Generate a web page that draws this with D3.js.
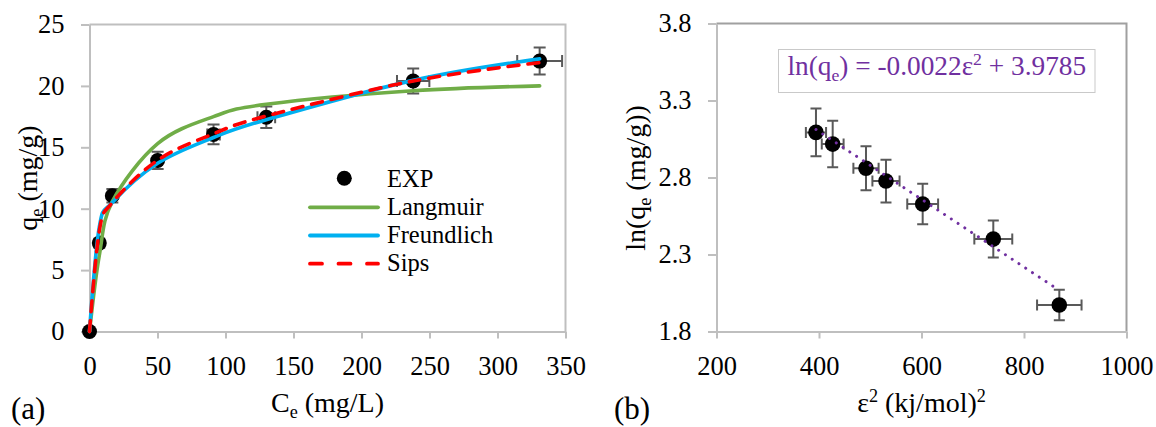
<!DOCTYPE html>
<html>
<head>
<meta charset="utf-8">
<script src="https://cdn.jsdelivr.net/npm/d3@7"></script>
<style>
  body { margin: 0; background: #fff; }
  svg { display: block; font-family: "Liberation Serif", "Times New Roman", serif; }
</style>
</head>
<body>
<svg id="chart" width="1156" height="427"></svg>
<script>
// ---------- Panel (a): adsorption isotherm ----------
const ceValues   = [0, 7.2, 16.8, 50.1, 91.2, 130, 238, 331];        // Ce (mg/L)
const qeValues   = [0, 7.2, 11.05, 13.93, 16.05, 17.45, 20.4, 22.02]; // qe (mg/g)
const qeErr      = [0, 0.36, 0.55, 0.70, 0.80, 0.87, 1.02, 1.10];
const ceErr      = [0, 0.36, 0.84, 2.5, 4.6, 6.5, 11.9, 16.5];
const langmuirQe    = [0, 6.2, 10.6, 15.3, 17.5, 18.5, 19.6, 20.0];
const freundlichQe  = [0, 8.5, 10.5, 13.7, 15.8, 17.25, 20.45, 22.2];
const sipsQe        = [0, 8.2, 10.5, 13.95, 16.1, 17.55, 20.4, 21.9];
const ceTicks = [0, 50, 100, 150, 200, 250, 300, 350];
const qeTicks = [0, 5, 10, 15, 20, 25];

// ---------- Panel (b): D-R plot ----------
const eps2Values = [394.1, 426.7, 491.7, 530.7, 602.3, 740.1, 868.9];
const lnQeValues = [3.093, 3.017, 2.860, 2.777, 2.628, 2.400, 1.972];
const lnQeErr    = [0.155, 0.151, 0.143, 0.139, 0.131, 0.120, 0.099];
const eps2Err    = [19.7, 21.3, 24.6, 26.5, 30.1, 37.0, 43.4];
const trendSlope = -0.0022;
const trendIntercept = 3.9785;
const eps2Ticks = [200, 400, 600, 800, 1000];
const lnQeTicks = [1.8, 2.3, 2.8, 3.3, 3.8];

const FONT = "'Liberation Serif', 'Times New Roman', serif";
const AXIS_COLOR = "#bfbfbf";
const ERR_COLOR = "#595959";
const TICK_FONT = 26.5;
const TITLE_FONT = 28;

const svg = d3.select("#chart");

function styleAxis(g) {
  g.attr("font-family", FONT).attr("font-size", TICK_FONT);
  g.select(".domain").attr("stroke", AXIS_COLOR).attr("stroke-width", 2);
  g.selectAll(".tick line").attr("stroke", AXIS_COLOR).attr("stroke-width", 2);
  g.selectAll(".tick text").attr("fill", "#000");
}

function drawAxes(g, x, y, xt, yt, fmtY, borderColor) {
  const [x0, x1] = x.range();
  const [y0, y1] = y.range();
  // top & right frame
  g.append("path")
    .attr("d", `M${x0},${y1}H${x1}V${y0}`)
    .attr("fill", "none").attr("stroke", borderColor).attr("stroke-width", 2);
  g.append("g")
    .attr("transform", `translate(0,${y0})`)
    .call(d3.axisBottom(x).tickValues(xt).tickFormat(d3.format("d"))
      .tickSize(7).tickSizeOuter(0).tickPadding(17.5))
    .call(styleAxis);
  g.append("g")
    .attr("transform", `translate(${x0},0)`)
    .call(d3.axisLeft(y).tickValues(yt).tickFormat(fmtY)
      .tickSize(8.5).tickSizeOuter(0).tickPadding(16.5))
    .call(styleAxis);
}

function drawErrorBars(g, x, y, xs, ys, xe, ye, cap) {
  const eb = g.append("g").attr("stroke", ERR_COLOR).attr("stroke-width", 2).attr("fill", "none");
  xs.forEach((xv, i) => {
    const yv = ys[i];
    if (ye[i] > 0) {
      const ya = y(yv - ye[i]), yb = y(yv + ye[i]), xp = x(xv);
      eb.append("path").attr("d",
        `M${xp},${ya}V${yb}M${xp - cap},${ya}H${xp + cap}M${xp - cap},${yb}H${xp + cap}`);
    }
    if (xe[i] > 0) {
      const xa = x(xv - xe[i]), xb = x(xv + xe[i]), yp = y(yv);
      eb.append("path").attr("d",
        `M${xa},${yp}H${xb}M${xa},${yp - cap}V${yp + cap}M${xb},${yp - cap}V${yp + cap}`);
    }
  });
}

// ================= Panel (a) =================
const xA = d3.scaleLinear().domain([0, 350]).range([89.5, 565.5]);
const yA = d3.scaleLinear().domain([0, 25]).range([331.5, 24.5]);
const gA = svg.append("g");
drawAxes(gA, xA, yA, ceTicks, qeTicks, d3.format("d"), AXIS_COLOR);

drawErrorBars(gA, xA, yA, ceValues, qeValues, ceErr, qeErr, 6);

gA.append("g").selectAll("circle")
  .data(ceValues)
  .join("circle")
  .attr("cx", d => xA(d))
  .attr("cy", (d, i) => yA(qeValues[i]))
  .attr("r", 7.5)
  .attr("fill", "#000");

const modelLine = d3.line()
  .x((d, i) => xA(ceValues[i]))
  .y(d => yA(d))
  .curve(d3.curveCardinal.tension(0));

const models = [
  { name: "Langmuir",   values: langmuirQe,   color: "#70AD47", dash: null },
  { name: "Freundlich", values: freundlichQe, color: "#00B0F0", dash: null },
  { name: "Sips",       values: sipsQe,       color: "#FF0000", dash: "11,9" }
];

models.forEach(m => {
  gA.append("path")
    .attr("d", modelLine(m.values))
    .attr("fill", "none")
    .attr("stroke", m.color)
    .attr("stroke-width", 3.6)
    .attr("stroke-linecap", "round")
    .attr("stroke-linejoin", "round")
    .attr("stroke-dasharray", m.dash);
});

// legend
const legend = gA.append("g").attr("font-family", FONT).attr("font-size", 24.5);
legend.append("circle").attr("cx", 344.3).attr("cy", 178.3).attr("r", 7.5).attr("fill", "#000");
legend.append("text").attr("x", 387).attr("y", 186.7).text("EXP");
models.forEach((m, i) => {
  const ly = 207.3 + i * 28.2;
  legend.append("line")
    .attr("x1", 310).attr("x2", 378).attr("y1", ly).attr("y2", ly)
    .attr("stroke", m.color).attr("stroke-width", 3.8)
    .attr("stroke-linecap", "round")
    .attr("stroke-dasharray", m.dash ? "12,16.5" : null);
  legend.append("text").attr("x", 387).attr("y", ly + 7.3).text(m.name);
});

// axis titles
const tA = gA.append("g").attr("font-family", FONT).attr("font-size", TITLE_FONT).attr("fill", "#000");
const xTitleA = tA.append("text").attr("x", 327.5).attr("y", 411.5).attr("text-anchor", "middle");
xTitleA.append("tspan").text("C");
xTitleA.append("tspan").attr("font-size", "0.65em").attr("dy", 6).text("e");
xTitleA.append("tspan").attr("dy", -6).text(" (mg/L)");

const yTitleA = tA.append("text")
  .attr("transform", "translate(37,178) rotate(-90)")
  .attr("text-anchor", "middle");
yTitleA.append("tspan").text("q");
yTitleA.append("tspan").attr("font-size", "0.65em").attr("dy", 6).text("e");
yTitleA.append("tspan").attr("dy", -6).text(" (mg/g)");

tA.append("text").attr("x", 11).attr("y", 419).attr("font-size", 31).text("(a)");

// ================= Panel (b) =================
const xB = d3.scaleLinear().domain([200, 1000]).range([716.5, 1126.5]);
const yB = d3.scaleLinear().domain([1.8, 3.8]).range([331.5, 23.5]);
const gB = svg.append("g");
drawAxes(gB, xB, yB, eps2Ticks, lnQeTicks, d3.format(".1f"), "#a0a0a0");

drawErrorBars(gB, xB, yB, eps2Values, lnQeValues, eps2Err, lnQeErr, 5.5);

gB.append("g").selectAll("circle")
  .data(eps2Values)
  .join("circle")
  .attr("cx", d => xB(d))
  .attr("cy", (d, i) => yB(lnQeValues[i]))
  .attr("r", 7.8)
  .attr("fill", "#000");

// linear trend line from the fitted equation
const trendX = d3.extent(eps2Values);
gB.append("path")
  .attr("d", d3.line().x(d => xB(d)).y(d => yB(trendSlope * d + trendIntercept))(trendX))
  .attr("fill", "none")
  .attr("stroke", "#7030A0")
  .attr("stroke-width", 3)
  .attr("stroke-linecap", "round")
  .attr("stroke-dasharray", "0.01,8.1");

// equation box
gB.append("rect")
  .attr("x", 778.5).attr("y", 49.5).attr("width", 316.5).attr("height", 43)
  .attr("fill", "#fff").attr("stroke", "#c9c9c9").attr("stroke-width", 1);
const eq = gB.append("text")
  .attr("x", 936.8).attr("y", 74.5)
  .attr("text-anchor", "middle")
  .attr("font-family", FONT).attr("font-size", 27.3)
  .attr("fill", "#7030A0");
eq.append("tspan").text("ln(q");
eq.append("tspan").attr("font-size", "0.65em").attr("dy", 6).text("e");
eq.append("tspan").attr("dy", -6).text(") = -0.0022\u03B5");
eq.append("tspan").attr("font-size", "0.65em").attr("dy", -10).text("2");
eq.append("tspan").attr("dy", 10).text(" + " + trendIntercept.toFixed(4));

// axis titles
const tB = gB.append("g").attr("font-family", FONT).attr("font-size", TITLE_FONT).attr("fill", "#000");
const xTitleB = tB.append("text").attr("x", 921.5).attr("y", 412).attr("text-anchor", "middle");
xTitleB.append("tspan").text("\u03B5");
xTitleB.append("tspan").attr("font-size", "0.65em").attr("dy", -10).text("2");
xTitleB.append("tspan").attr("dy", 10).text(" (kj/mol)");
xTitleB.append("tspan").attr("font-size", "0.65em").attr("dy", -10).text("2");

const yTitleB = tB.append("text")
  .attr("transform", "translate(645,178) rotate(-90)")
  .attr("text-anchor", "middle");
yTitleB.append("tspan").text("ln(q");
yTitleB.append("tspan").attr("font-size", "0.65em").attr("dy", 6).text("e");
yTitleB.append("tspan").attr("dy", -6).text(" (mg/g))");

tB.append("text").attr("x", 614).attr("y", 419).attr("font-size", 31).text("(b)");
</script>
</body>
</html>
